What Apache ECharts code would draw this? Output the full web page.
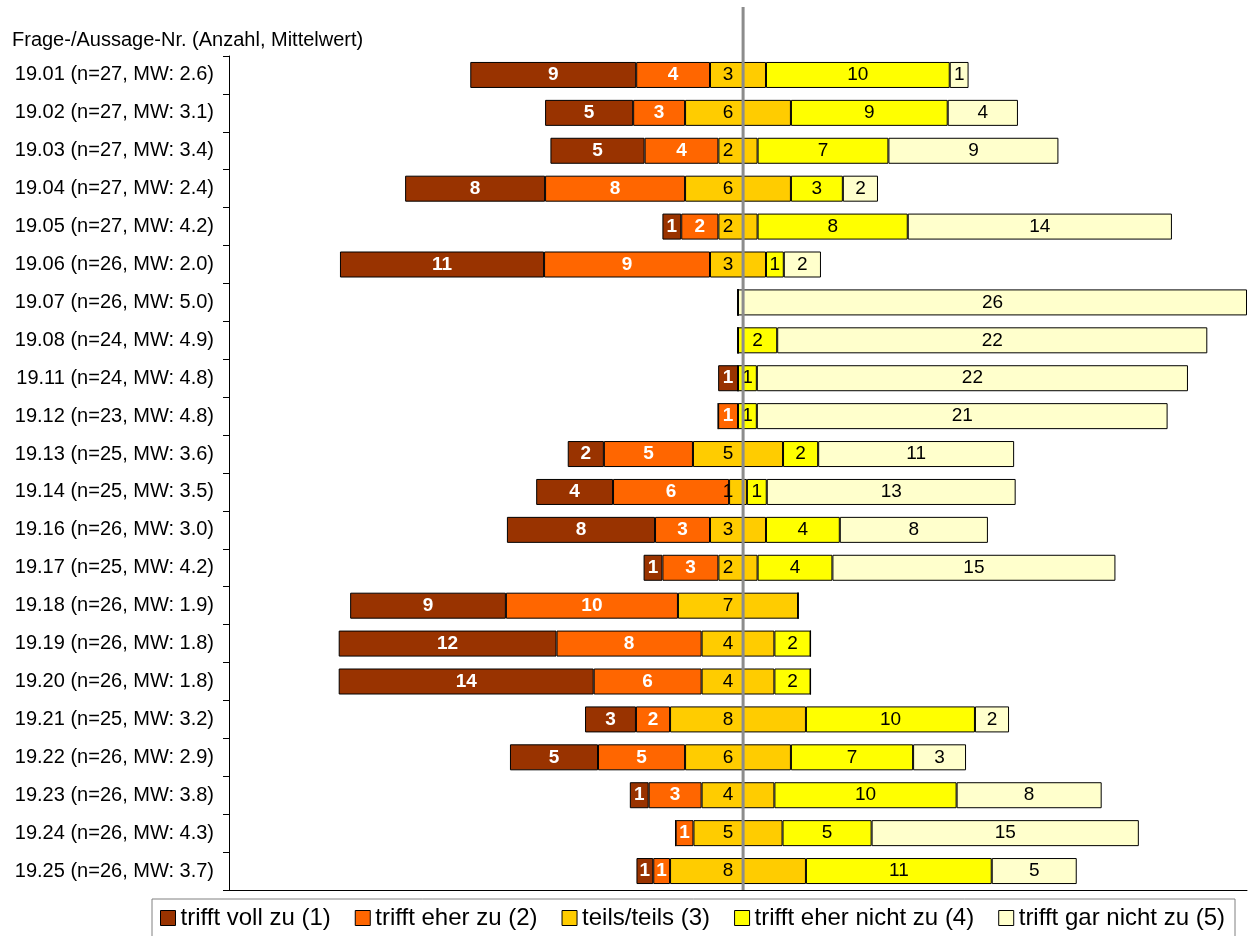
<!DOCTYPE html>
<html>
<head>
<meta charset="utf-8">
<script src="https://cdn.jsdelivr.net/npm/echarts@6/dist/echarts.min.js"></script>
<style>
  html, body { margin: 0; padding: 0; background: #fff; }
  #main { width: 1248px; height: 936px; }
</style>
</head>
<body>
<div id="main"></div>
<script>
var categories = [
    '19.01 (n=27, MW: 2.6)', '19.02 (n=27, MW: 3.1)', '19.03 (n=27, MW: 3.4)', '19.04 (n=27, MW: 2.4)',
    '19.05 (n=27, MW: 4.2)', '19.06 (n=26, MW: 2.0)', '19.07 (n=26, MW: 5.0)', '19.08 (n=24, MW: 4.9)',
    '19.11 (n=24, MW: 4.8)', '19.12 (n=23, MW: 4.8)', '19.13 (n=25, MW: 3.6)', '19.14 (n=25, MW: 3.5)',
    '19.16 (n=26, MW: 3.0)', '19.17 (n=25, MW: 4.2)', '19.18 (n=26, MW: 1.9)', '19.19 (n=26, MW: 1.8)',
    '19.20 (n=26, MW: 1.8)', '19.21 (n=25, MW: 3.2)', '19.22 (n=26, MW: 2.9)', '19.23 (n=26, MW: 3.8)',
    '19.24 (n=26, MW: 4.3)', '19.25 (n=26, MW: 3.7)'
];
var names = ['trifft voll zu (1)', 'trifft eher zu (2)', 'teils/teils (3)', 'trifft eher nicht zu (4)', 'trifft gar nicht zu (5)'];

// Anzahl (Beschriftung der Balken)
var countVoll      = [9, 5, 5, 8, 1, 11, 0, 0, 1, 0, 2, 4, 8, 1, 9, 12, 14, 3, 5, 1, 0, 1];
var countEher      = [4, 3, 4, 8, 2, 9, 0, 0, 0, 1, 5, 6, 3, 3, 10, 8, 6, 2, 5, 3, 1, 1];
var countTeils     = [3, 6, 2, 6, 2, 3, 0, 0, 0, 0, 5, 1, 3, 2, 7, 4, 4, 8, 6, 4, 5, 8];
var countEherNicht = [10, 9, 7, 3, 8, 1, 0, 2, 1, 1, 2, 1, 4, 4, 0, 2, 2, 10, 7, 10, 5, 11];
var countGar       = [1, 4, 9, 2, 14, 2, 26, 22, 22, 21, 11, 13, 8, 15, 0, 0, 0, 2, 3, 8, 15, 5];

// Balkenlaengen in Prozent
var pctVoll      = [32.6, 17.3, 18.5, 27.5, 3.7, 40.1, 0, 0, 3.9, 0, 7.1, 15.1, 29.1, 3.7, 30.6, 42.8, 50.1, 10.0, 17.3, 3.7, 0, 3.3];
var pctEher      = [14.5, 10.2, 14.5, 27.5, 7.3, 32.6, 0, 0, 0, 3.9, 17.5, 22.8, 10.8, 11.0, 33.8, 28.5, 21.2, 6.7, 17.1, 10.4, 3.5, 3.3];
var pctTeils     = [11.0, 20.8, 7.7, 20.8, 7.7, 11.0, 0, 0, 0, 0, 17.7, 3.5, 11.0, 7.7, 23.6, 14.3, 14.3, 26.7, 20.8, 14.3, 17.5, 26.7];
var pctEherNicht = [36.1, 30.8, 25.7, 10.2, 29.5, 3.5, 0, 7.7, 3.7, 3.7, 6.9, 3.9, 14.5, 14.7, 0, 7.1, 7.1, 33.2, 24.0, 35.8, 17.5, 36.5];
var pctGar       = [3.7, 13.8, 33.4, 6.9, 51.9, 7.3, 100, 84.5, 84.7, 80.7, 38.5, 48.9, 29.1, 55.6, 0, 0, 0, 6.7, 10.4, 28.5, 52.5, 16.7];

var centerMark = 1;   // graue Mittellinie

var colors = ['#993300', '#FF6600', '#FFCC00', '#FFFF00', '#FFFFCC'];
var counts = [countVoll, countEher, countTeils, countEherNicht, countGar];
var pcts = [pctVoll, pctEher, pctTeils, pctEherNicht, pctGar];

// linker Startpunkt jedes Balkens: teils/teils liegt mittig auf 0
var offset = categories.map(function (c, i) {
    return -(pctVoll[i] + pctEher[i] + pctTeils[i] / 2);
});

var fontFam = 'Liberation Sans, Arial, sans-serif';

var series = [{
    name: 'offset',
    type: 'bar',
    stack: 'a',
    stackStrategy: 'all',
    barWidth: 26,
    itemStyle: { color: 'transparent', borderWidth: 0 },
    silent: true,
    data: offset
}];

names.forEach(function (n, k) {
    var dark = k < 2;
    series.push({
        name: n,
        type: 'bar',
        stack: 'a',
        stackStrategy: 'all',
        barWidth: 26,
        itemStyle: { color: colors[k], borderColor: '#000', borderWidth: 1 },
        label: {
            show: true,
            position: 'inside',
            offset: k === 2 ? [-10, 0] : [0, 0],
            fontFamily: fontFam,
            fontSize: 19,
            fontWeight: dark ? 'bold' : 'normal',
            color: dark ? '#fff' : '#000',
            formatter: function (p) {
                var c = counts[k][p.dataIndex];
                return c ? String(c) : '';
            }
        },
        data: pcts[k]
    });
});

series.push({
    name: 'mitte',
    type: 'line',
    xAxisIndex: 1,
    yAxisIndex: 1,
    symbol: 'none',
    silent: true,
    z: 10,
    lineStyle: { color: '#8c8c8c', width: 3 },
    data: [[centerMark, 0], [centerMark, 1]]
});

var myChart = echarts.init(document.getElementById('main'));

var option = {
    backgroundColor: '#fff',
    animation: false,
    textStyle: { fontFamily: fontFam },
    title: {
        text: 'Frage-/Aussage-Nr. (Anzahl, Mittelwert)',
        left: 12,
        top: 30,
        padding: 0,
        textStyle: { fontFamily: fontFam, fontSize: 20, fontWeight: 'normal', color: '#000' }
    },
    legend: {
        data: names,
        left: 152,
        top: 899,
        orient: 'horizontal',
        borderColor: '#808080',
        borderWidth: 1,
        padding: [7, 10, 8, 8],
        itemWidth: 15,
        itemHeight: 15,
        itemGap: 24,
        icon: 'rect',
        itemStyle: { borderColor: '#000', borderWidth: 1 },
        textStyle: { fontFamily: fontFam, fontSize: 24, color: '#000' }
    },
    grid: [{
        left: 229,
        right: 1,
        top: 56,
        bottom: 46
    }, {
        left: 229,
        right: 1,
        top: 7,
        bottom: 46
    }],
    xAxis: [{
        type: 'value',
        min: -100,
        max: 100,
        gridIndex: 0,
        axisLine: { show: true, onZero: false, lineStyle: { color: '#000', width: 1 } },
        axisTick: { show: false },
        axisLabel: { show: false },
        splitLine: { show: false }
    }, {
        type: 'value',
        min: -100,
        max: 100,
        gridIndex: 1,
        show: false
    }],
    yAxis: [{
        type: 'category',
        inverse: true,
        gridIndex: 0,
        data: categories,
        axisLine: { show: true, onZero: false, lineStyle: { color: '#000', width: 1 } },
        axisTick: { show: true, length: 6, lineStyle: { color: '#000' } },
        axisLabel: { fontFamily: fontFam, fontSize: 20, color: '#000', margin: 15 },
        splitLine: { show: false }
    }, {
        type: 'value',
        min: 0,
        max: 1,
        gridIndex: 1,
        show: false
    }],
    series: series
};
myChart.setOption(option);
</script>
</body>
</html>
